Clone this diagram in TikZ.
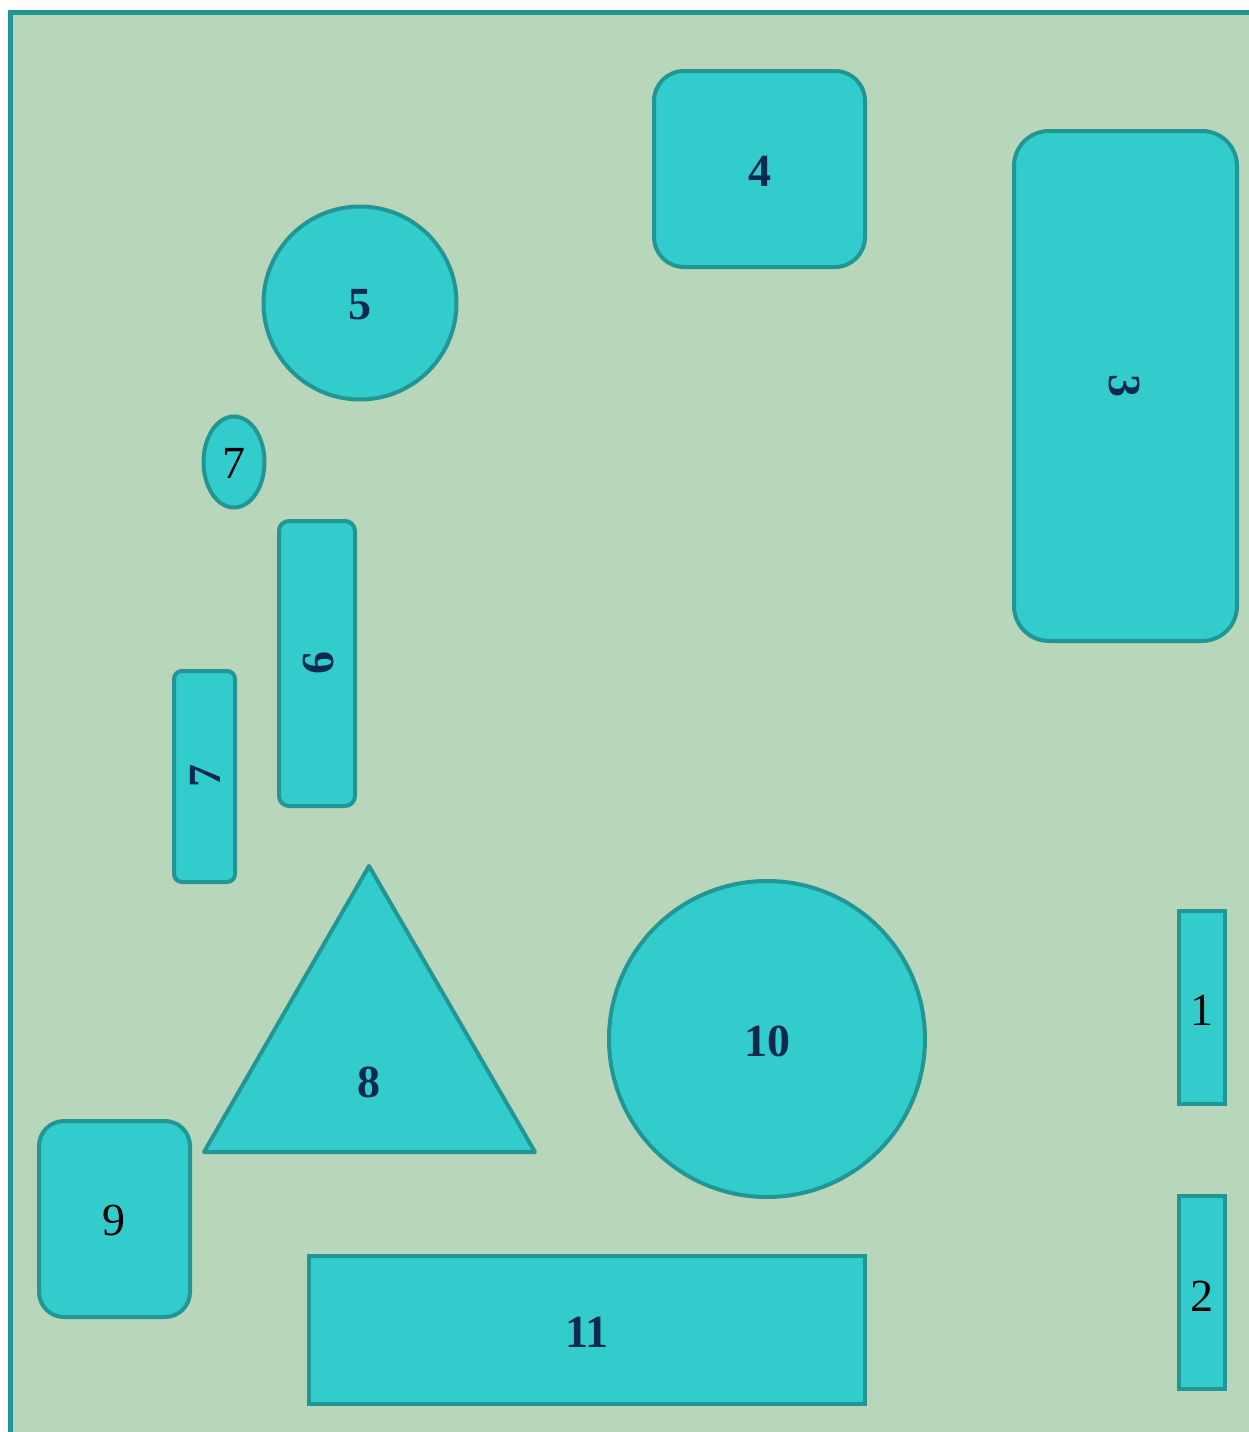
\documentclass[tikz,border=0pt]{standalone}
\usepackage{fontspec}
\setmainfont{Liberation Serif}
\usetikzlibrary{shapes.geometric}
\definecolor{bgc}{RGB}{184,214,185}
\definecolor{edgec}{RGB}{34,150,148}
\definecolor{fillc}{RGB}{51,204,204}
\definecolor{txtc}{RGB}{12,42,80}
\begin{document}
\begin{tikzpicture}[x=1pt,y=-1pt,
  shp/.style={draw=edgec,fill=fillc,line width=4pt},
  bl/.style={font=\fontsize{46}{46}\selectfont\bfseries,text=txtc},
  rl/.style={font=\fontsize{46}{46}\selectfont,text=black}]
\useasboundingbox (0,0) rectangle (1248,1432);
\fill[bgc] (10,12) rectangle (1260,1445);
\draw[edgec,line width=5pt] (10,1445) -- (10,12) -- (1260,12);
% 4
\draw[shp,rounded corners=30pt] (654,71) rectangle (865,267);
\node[bl] (n4) at (760,171) {4};
% 3
\draw[shp,rounded corners=35pt] (1014,131) rectangle (1237,641);
\node[bl,rotate=-90] (n3) at (1124,386) {3};
% 5
\draw[shp] (360,303) circle (96.5);
\node[bl] (n5) at (360,305) {5};
% 7 ellipse
\draw[shp] (234,462) ellipse (30.5 and 45.5);
\node[rl] (n7e) at (234,463) {7};
% 6
\draw[shp,rounded corners=10pt] (279,521) rectangle (355,806);
\node[bl,rotate=90] (n6) at (318,663) {6};
% 7 rect
\draw[shp,rounded corners=8pt] (174,671) rectangle (235,882);
\node[bl,rotate=90] (n7) at (205,776) {7};
% 8 triangle
\draw[shp,line join=round] (369,866) -- (535,1152) -- (204,1152) -- cycle;
\node[bl] (n8) at (369,1082) {8};
% 10
\draw[shp] (767,1039) circle (158);
\node[bl] (n10) at (767,1041) {10};
% 1
\draw[shp] (1179,911) rectangle (1225,1104);
\node[rl] (n1) at (1202,1010) {1};
% 2
\draw[shp] (1179,1196) rectangle (1225,1389);
\node[rl] (n2) at (1202,1296) {2};
% 9
\draw[shp,rounded corners=25pt] (39,1121) rectangle (190,1317);
\node[rl] (n9) at (114,1220) {9};
% 11
\draw[shp] (309,1256) rectangle (865,1404);
\node[bl] (n11) at (587,1332) {11};
\end{tikzpicture}
\end{document}
